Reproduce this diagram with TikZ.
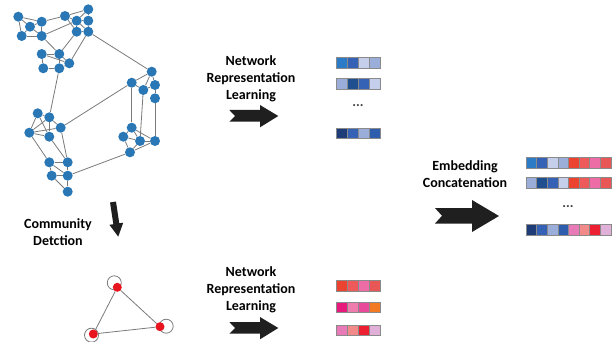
\documentclass[tikz,border=0pt]{standalone}
\usepackage{fontspec}
\setmainfont{Carlito}
\usetikzlibrary{backgrounds}
\definecolor{nodeblue}{HTML}{2A77B6}
\definecolor{nodered}{HTML}{E8141E}
\definecolor{edgegray}{HTML}{7A7A7A}
\definecolor{cellgray}{HTML}{8A8A8A}
\definecolor{Ba}{HTML}{2B7BC6}
\definecolor{Bb}{HTML}{3562B4}
\definecolor{Bc}{HTML}{C5CEEA}
\definecolor{Bd}{HTML}{9BAEDA}
\definecolor{Be}{HTML}{1F4F8E}
\definecolor{Bf}{HTML}{1E3C78}
\definecolor{Bg}{HTML}{2F5DAE}
\definecolor{Ra}{HTML}{EC4330}
\definecolor{Rb}{HTML}{EE5A5A}
\definecolor{Rc}{HTML}{EE6CA6}
\definecolor{Rd}{HTML}{E85656}
\definecolor{Ma}{HTML}{E8197C}
\definecolor{Mb}{HTML}{F07CAE}
\definecolor{Mc}{HTML}{EA4A9A}
\definecolor{Md}{HTML}{F27A22}
\definecolor{Pa}{HTML}{E87AB8}
\definecolor{Pb}{HTML}{F28A8A}
\definecolor{Pc}{HTML}{EC2030}
\definecolor{Pd}{HTML}{E0B0D8}
\newcommand{\embrow}[4]{\foreach \cc [count=\ii from 0] in {#4} {\filldraw[fill=\cc, draw=cellgray, line width=0.5pt] ({#1+\ii*#3},#2) rectangle ++(#3,10.5);}}
\begin{document}
\begin{tikzpicture}[x=1pt,y=-1pt,
  nd/.style={circle,fill=nodeblue,inner sep=0pt,minimum size=10pt},
  rd/.style={circle,fill=nodered,inner sep=0pt,minimum size=9pt},
  ed/.style={draw=edgegray,line width=0.8pt},
  lp/.style={draw=edgegray,line width=0.8pt},
  lbl/.style={font=\bfseries\fontsize{14}{17}\selectfont, align=center, inner sep=0pt},
  dots/.style={font=\bfseries\fontsize{14}{17}\selectfont, text=black!75, inner sep=0pt},
  fatarrow/.style={fill=black!88}]
\useasboundingbox (0,0) rectangle (616,342);

% ---------- network ----------
\node[nd] (a1) at (18.3,16.7) {};
\node[nd] (a2) at (30,26.7) {};
\node[nd] (a3) at (41.7,21.7) {};
\node[nd] (a4) at (21.7,36) {};
\node[nd] (a5) at (41.7,36) {};
\node[nd] (b1) at (65,16) {};
\node[nd] (b2) at (88.3,9.3) {};
\node[nd] (b3) at (76.7,20.7) {};
\node[nd] (b4) at (88.3,20.7) {};
\node[nd] (b5) at (76.7,31.7) {};
\node[nd] (b6) at (88.3,31.7) {};
\node[nd] (c1) at (41.7,54) {};
\node[nd] (c2) at (59.3,54) {};
\node[nd] (c3) at (43.3,68.3) {};
\node[nd] (c4) at (59.3,68.3) {};
\node[nd] (c5) at (69.3,63.3) {};
\node[nd] (r1) at (151.7,71.7) {};
\node[nd] (r2) at (131.7,82.7) {};
\node[nd] (r3) at (143.3,90) {};
\node[nd] (r4) at (155,85) {};
\node[nd] (r5) at (155,98.3) {};
\node[nd] (r6) at (131.7,127.7) {};
\node[nd] (r7) at (123.3,136.7) {};
\node[nd] (r8) at (140,141) {};
\node[nd] (r9) at (155,141) {};
\node[nd] (r10) at (130,152.3) {};
\node[nd] (l1) at (37.7,113.3) {};
\node[nd] (l2) at (49.3,117.3) {};
\node[nd] (l3) at (60.7,127.7) {};
\node[nd] (l4) at (29.3,132.7) {};
\node[nd] (l5) at (49.3,136.7) {};
\node[nd] (l6) at (49.3,162.3) {};
\node[nd] (l7) at (67.7,162.3) {};
\node[nd] (l8) at (51.7,175.7) {};
\node[nd] (l9) at (67.7,175.7) {};
\node[nd] (l10) at (67.7,191.7) {};
\begin{pgfonlayer}{background}
\foreach \u/\v in {a1/a2,a1/a3,a1/a4,a2/a3,a2/a5,a3/a5,a4/a5,a2/a4,a3/b1,a5/b3,
  b1/b2,b1/b3,b2/b3,b2/b4,b3/b4,b3/b5,b4/b6,b5/b6,b3/b6,b1/b5,
  a5/c2,b5/c2,b6/c5,b6/r1,
  c1/c2,c1/c3,c1/c5,c2/c4,c2/c5,c3/c4,c4/c5,c4/l2,
  l1/l2,l1/l4,l1/l5,l2/l3,l2/l5,l4/l5,l4/l3,l2/l4,l4/l6,l3/l7,l5/l7,l3/r2,
  l6/l7,l6/l8,l6/l9,l7/l9,l8/l9,l9/l10,l8/l10,l9/r10,
  r1/r2,r1/r3,r1/r4,r2/r3,r3/r4,r4/r5,r2/r6,r3/r8,r5/r9,
  r6/r7,r6/r8,r6/r9,r7/r8,r7/r10,r8/r9,r8/r10,r9/r10}
  \draw[ed] (\u) -- (\v);
\end{pgfonlayer}

% ---------- community graph ----------
\draw[lp] (114.3,282.8) circle (7);
\draw[lp] (166.2,326.2) circle (7);
\draw[lp] (91.5,335.2) circle (7);
\node[rd] (t1) at (117.3,287.3) {};
\node[rd] (t2) at (160,326.7) {};
\node[rd] (t3) at (93.3,334) {};
\begin{pgfonlayer}{background}
\draw[ed] (t1) -- (t2);
\draw[ed] (t2) -- (t3);
\draw[ed] (t3) -- (t1);
\end{pgfonlayer}

% ---------- labels ----------
\node[lbl] (nrl1) at (251,79) {Network\\Representation\\Learning};
\node[lbl] (nrl2) at (251,290) {Network\\Representation\\Learning};
\node[lbl] (emb) at (465,174) {Embedding\\Concatenation};
\node[lbl] (com) at (58,232) {Community\\Detction};

% ---------- arrows ----------
\fill[fatarrow] (229.3,110) -- (260,110) -- (260,105) -- (278.3,116) -- (260,127.3) -- (260,121.7) -- (229.3,121.7) -- (235,116) -- cycle;
\begin{scope}[yshift=-212pt]
\fill[fatarrow] (229.3,110) -- (260,110) -- (260,105) -- (278.3,116) -- (260,127.3) -- (260,121.7) -- (229.3,121.7) -- (235,116) -- cycle;
\end{scope}
\fill[fatarrow] (435,208) -- (472,208) -- (472,200) -- (499,216) -- (472,232) -- (472,223.5) -- (435,223.5) -- (442,215.8) -- cycle;
\fill[fatarrow] (115.97,201.55) -- (119.27,223.31) -- (123.22,222.71) -- (118.25,236.6) -- (109.38,224.81) -- (113.33,224.21) -- (110.03,202.45) -- cycle;

% ---------- embeddings ----------
\embrow{336}{57.5}{11}{Ba,Bb,Bc,Bd}
\embrow{336}{78.5}{11}{Bd,Be,Bb,Bc}
\node[dots] (d1) at (358,106) {...};
\embrow{336}{128}{11}{Bf,Bb,Bd,Bg}

\embrow{336}{280.5}{11}{Ra,Rb,Rc,Rd}
\embrow{336}{302}{11}{Ma,Mb,Mc,Md}
\embrow{336}{325}{11}{Pa,Pb,Pc,Pd}

\embrow{526}{157.5}{10.6}{Ba,Bb,Bc,Bd,Ra,Rb,Rc,Rd}
\embrow{526}{177.5}{10.6}{Bd,Be,Bb,Bc,Ra,Rb,Rc,Rd}
\node[dots] (d2) at (568,207) {...};
\embrow{526}{224.5}{10.6}{Bf,Bb,Bd,Bg,Pa,Pb,Pc,Pd}
\end{tikzpicture}
\end{document}
